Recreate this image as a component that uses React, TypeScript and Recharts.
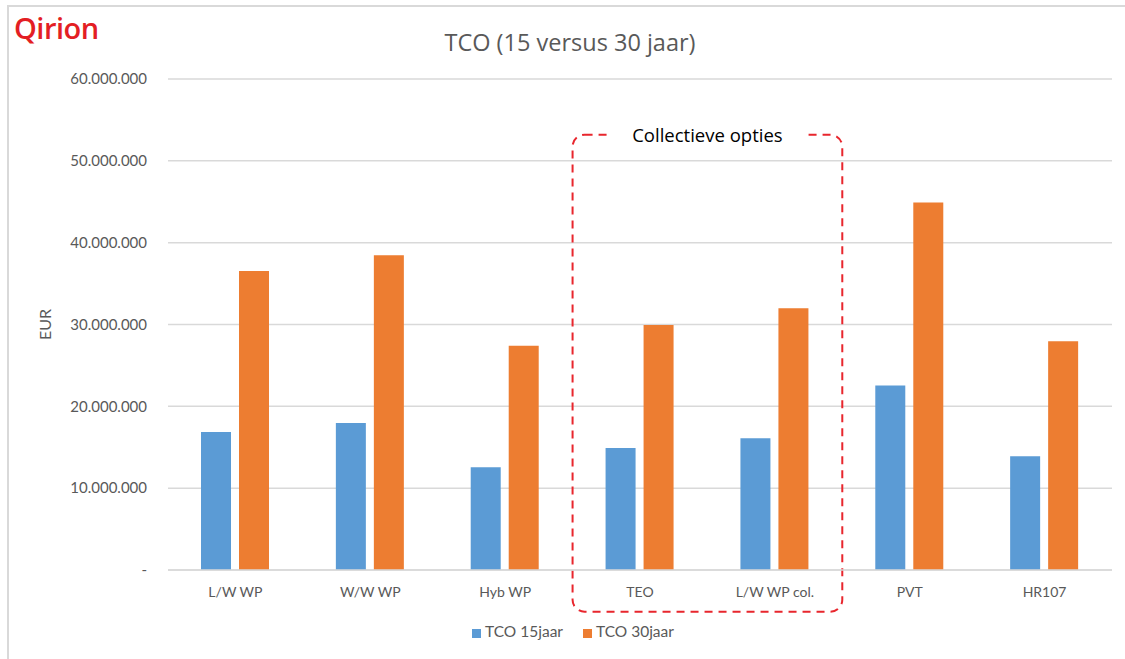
import React from "react";
import {
  BarChart,
  Bar,
  XAxis,
  YAxis,
  CartesianGrid,
  Legend,
  ReferenceArea,
} from "recharts";

const categories = ["L/W WP", "W/W WP", "Hyb WP", "TEO", "L/W WP col.", "PVT", "HR107"];
const tco15 = [16850000, 17950000, 12550000, 14900000, 16100000, 22550000, 13900000];
const tco30 = [36550000, 38450000, 27400000, 29950000, 32000000, 44900000, 27950000];
const yTicks = [0, 10000000, 20000000, 30000000, 40000000, 50000000, 60000000];
const seriesNames = ["TCO 15jaar", "TCO 30jaar"];
const groupLabel = "Collectieve opties";
const groupRange = ["TEO", "L/W WP col."];

const data = categories.map((c, i) => ({ name: c, a: tco15[i], b: tco30[i] }));

const FONT = "Lato, 'Open Sans', sans-serif";
const FONT2 = "'Open Sans', Lato, sans-serif";

const fmt = (v: number) =>
  v === 0 ? "-" : v.toLocaleString("de-DE").replace(/,/g, ".");

const GroupBox = (props: any) => {
  const { x, y, width, height } = props;
  const cx = x + width / 2;
  return (
    <g>
      <rect
        x={x}
        y={y}
        width={width}
        height={height}
        rx={12}
        ry={12}
        fill="none"
        stroke="#e8262d"
        strokeWidth={2}
        strokeDasharray="8 6"
      />
      <rect x={cx - 97} y={y - 10} width={193} height={20} fill="#fff" />
      <text
        x={cx}
        y={y + 7}
        textAnchor="middle"
        fontFamily={FONT2}
        fontSize={18.5}
        fill="#000"
      >
        {groupLabel}
      </text>
    </g>
  );
};

export default function App() {
  return (
    <div
      style={{
        position: "absolute",
        left: 0,
        top: 0,
        width: 1125,
        height: 659,
        background: "#fff",
        fontFamily: FONT,
      }}
    >
      <div
        style={{
          position: "absolute",
          left: 7,
          top: 5,
          width: 1118,
          height: 654,
          borderLeft: "2px solid #d9d9d9",
          borderTop: "2px solid #d9d9d9",
          boxSizing: "border-box",
        }}
      />
      <div
        style={{
          position: "absolute",
          left: 14,
          top: 8,
          fontFamily: FONT2,
          fontWeight: 600,
          fontSize: 29,
          color: "#e31e24",
          letterSpacing: -0.5,
        }}
      >
        Qirion
      </div>
      <div
        style={{
          position: "absolute",
          left: 0,
          width: 1140,
          top: 26,
          textAlign: "center",
          fontFamily: FONT2,
          fontSize: 23.5,
          color: "#595959",
        }}
      >
        TCO (15 versus 30 jaar)
      </div>
      <BarChart
        width={1125}
        height={659}
        data={data}
        margin={{ top: 79, right: 13, left: 0, bottom: 31 }}
        barGap={8}
        barCategoryGap={0}
        style={{ position: "absolute", left: 0, top: 0 }}
      >
        <CartesianGrid vertical={false} stroke="#d9d9d9" strokeWidth={1.5} />
        <XAxis
          dataKey="name"
          axisLine={{ stroke: "#d9d9d9", strokeWidth: 1.5 }}
          tickLine={false}
          tickMargin={11}
          height={40}
          tick={{ fill: "#595959", fontSize: 14, fontFamily: FONT }}
          interval={0}
        />
        <YAxis
          width={168}
          domain={[0, 60000000]}
          ticks={yTicks}
          tickFormatter={fmt}
          axisLine={false}
          tickLine={false}
          tickMargin={15}
          tick={{ fill: "#595959", fontSize: 15, fontFamily: FONT }}
          label={{
            value: "EUR",
            angle: -90,
            position: "insideLeft",
            offset: 45,
            style: { fill: "#595959", fontSize: 16, fontFamily: FONT, textAnchor: "middle" },
          }}
        />
        <Legend
          verticalAlign="bottom"
          iconType="square"
          iconSize={9}
          wrapperStyle={{ fontFamily: FONT, fontSize: 15.5, bottom: 19, paddingLeft: 27 }}
          formatter={(v: string) => (
            <span style={{ color: "#595959", marginRight: 10 }}>{v}</span>
          )}
        />
        <Bar
          dataKey="a"
          name={seriesNames[0]}
          fill="#5b9bd5"
          barSize={30}
          isAnimationActive={false}
        />
        <Bar
          dataKey="b"
          name={seriesNames[1]}
          fill="#ed7d31"
          barSize={30}
          isAnimationActive={false}
        />
        <ReferenceArea
          x1={groupRange[0]}
          x2={groupRange[1]}
          y1={53200000}
          y2={-5100000}
          ifOverflow="visible"
          shape={<GroupBox />}
        />
      </BarChart>
    </div>
  );
}
